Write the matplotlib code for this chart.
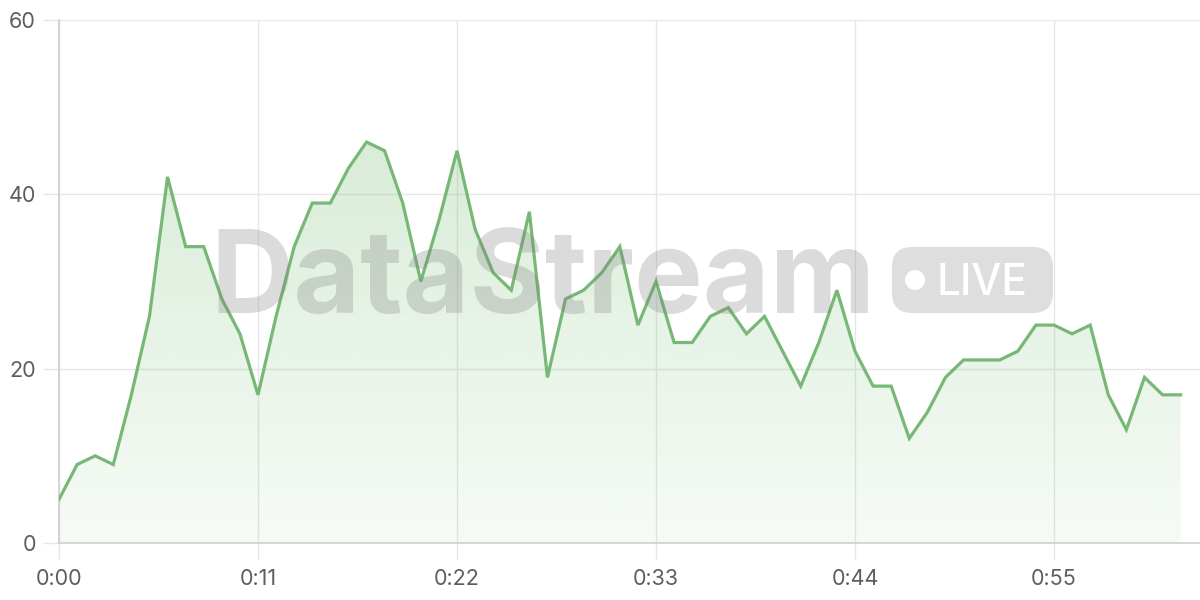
import numpy as np
import matplotlib
matplotlib.use("Agg")
import matplotlib.pyplot as plt
from matplotlib import transforms as mtransforms
from matplotlib.patches import FancyBboxPatch, Circle

# values per second
seconds = list(range(63))
values = [5, 9, 10, 9, 17, 26, 42, 34, 34, 28, 24, 17, 26, 34, 39, 39, 43, 46, 45, 39,
          30, 37, 45, 36, 31, 29, 38, 19, 28, 29, 31, 34, 25, 30, 23, 23, 26, 27, 24, 26,
          22, 18, 23, 29, 22, 18, 18, 12, 15, 19, 21, 21, 21, 22, 25, 25, 24, 25, 17, 13,
          19, 17, 17]
x_ticks = [0, 11, 22, 33, 44, 55]
x_labels = ["0:00", "0:11", "0:22", "0:33", "0:44", "0:55"]
y_ticks = [0, 20, 40, 60]

plt.rcParams["font.family"] = ["Inter", "DejaVu Sans"]

fig = plt.figure(figsize=(12, 6), dpi=100)
ax = fig.add_axes([59 / 1200, 57 / 600, 1141 / 1200, 523 / 600])

line_color = "#77b876"
grid_color = "#e6e6e6"

ax.set_xlim(0, 63.07)
ax.set_ylim(0, 60)

# gradient fill under the line
fill = ax.fill_between(seconds, values, 0, facecolor="none", edgecolor="none")
alpha = np.linspace(0.06, 0.32, 256).reshape(-1, 1)
rgba = np.zeros((256, 1, 4))
rgba[..., 0] = 108 / 255
rgba[..., 1] = 184 / 255
rgba[..., 2] = 106 / 255
rgba[..., 3] = alpha
img = ax.imshow(rgba, extent=[0, 62, 0, 60], aspect="auto", origin="lower", zorder=1)
img.set_clip_path(fill.get_paths()[0], transform=ax.transData)

ax.plot(seconds, values, color=line_color, lw=2.3, zorder=4, solid_joinstyle="miter")

ax.set_xticks(x_ticks)
ax.set_xticklabels(x_labels)
ax.set_yticks(y_ticks)
ax.grid(True, color=grid_color, lw=1)
ax.set_axisbelow(True)
ax.tick_params(axis="both", length=11.5, width=1, color=grid_color, labelsize=15.5,
               labelcolor="#5e5e5e")
ax.tick_params(axis="y", pad=5)
ax.tick_params(axis="x", pad=7)
for side in ["top", "right"]:
    ax.spines[side].set_visible(False)
for side in ["left", "bottom"]:
    ax.spines[side].set_color("#cfcfcf")
    ax.spines[side].set_linewidth(1.2)

# watermark
px = mtransforms.IdentityTransform()
fig.text(210, 600 - 313, "DataStream", transform=px, fontsize=83, fontweight="bold",
         color="#808080", alpha=0.28, ha="left", va="baseline", zorder=3)
badge = FancyBboxPatch((892, 600 - 313), 161, 66, boxstyle="round,pad=0,rounding_size=20",
                       transform=px, facecolor="#808080", alpha=0.26, edgecolor="none",
                       zorder=3)
fig.patches.append(badge)
fig.patches.append(Circle((915, 600 - 280), 10, transform=px, facecolor="white",
                          edgecolor="none", zorder=3.5))
fig.text(937, 600 - 295, "LIVE", transform=px, fontsize=30.5, fontweight="medium",
         color="white", ha="left", va="baseline", zorder=3.5)

fig.savefig("out.png", dpi=100)
